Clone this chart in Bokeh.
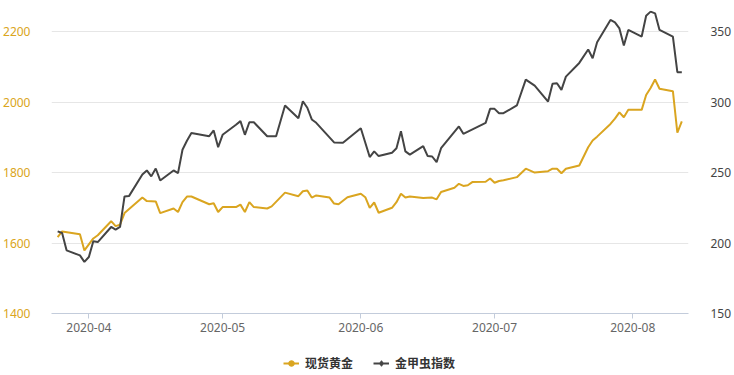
from datetime import datetime, timedelta
import pandas as pd
from bokeh.plotting import figure
from bokeh.layouts import column
from bokeh.models import (Range1d, LinearAxis, DatetimeTickFormatter, MonthsTicker,
                          FixedTicker, Legend, LegendItem, ColumnDataSource)
from bokeh.embed import file_html
from bokeh.resources import INLINE

gold_dates = ["2020-03-25", "2020-03-26", "2020-03-30", "2020-03-31", "2020-04-02", "2020-04-03",
              "2020-04-06", "2020-04-07", "2020-04-08", "2020-04-09", "2020-04-13", "2020-04-14",
              "2020-04-16", "2020-04-17", "2020-04-20", "2020-04-21", "2020-04-22", "2020-04-23",
              "2020-04-24", "2020-04-28", "2020-04-29", "2020-04-30", "2020-05-01", "2020-05-04",
              "2020-05-05", "2020-05-06", "2020-05-07", "2020-05-08", "2020-05-11", "2020-05-12",
              "2020-05-15", "2020-05-18", "2020-05-19", "2020-05-20", "2020-05-21", "2020-05-22",
              "2020-05-25", "2020-05-26", "2020-05-27", "2020-05-29", "2020-06-01", "2020-06-02",
              "2020-06-03", "2020-06-04", "2020-06-05", "2020-06-08", "2020-06-09", "2020-06-10",
              "2020-06-11", "2020-06-12", "2020-06-15", "2020-06-17", "2020-06-18", "2020-06-19",
              "2020-06-22", "2020-06-23", "2020-06-24", "2020-06-25", "2020-06-26", "2020-06-29",
              "2020-06-30", "2020-07-01", "2020-07-02", "2020-07-03", "2020-07-06", "2020-07-08",
              "2020-07-10", "2020-07-13", "2020-07-14", "2020-07-15", "2020-07-16", "2020-07-17",
              "2020-07-20", "2020-07-22", "2020-07-23", "2020-07-24", "2020-07-27", "2020-07-28",
              "2020-07-29", "2020-07-30", "2020-07-31", "2020-08-03", "2020-08-04", "2020-08-05",
              "2020-08-06", "2020-08-07", "2020-08-10", "2020-08-11", "2020-08-12"]
gold_values = [1617, 1633, 1625, 1579, 1613, 1622,
               1662, 1648, 1652, 1685, 1729, 1719,
               1718, 1685, 1698, 1688, 1716, 1732,
               1732, 1710, 1713, 1688, 1702, 1702,
               1709, 1688, 1716, 1702, 1698, 1704,
               1743, 1733, 1747, 1749, 1729, 1735,
               1729, 1712, 1710, 1730, 1740, 1730,
               1700, 1715, 1686, 1700, 1716, 1740,
               1729, 1732, 1728, 1729, 1724, 1745,
               1757, 1768, 1762, 1764, 1773, 1774,
               1783, 1771, 1776, 1778, 1787, 1811,
               1800, 1804, 1811, 1811, 1798, 1811,
               1820, 1872, 1891, 1902, 1938, 1953,
               1971, 1957, 1978, 1978, 2020, 2040,
               2064, 2038, 2031, 1913, 1945]

bug_dates = ["2020-03-25", "2020-03-26", "2020-03-27", "2020-03-30", "2020-03-31", "2020-04-01",
             "2020-04-02", "2020-04-03", "2020-04-06", "2020-04-07", "2020-04-08", "2020-04-09",
             "2020-04-10", "2020-04-13", "2020-04-14", "2020-04-15", "2020-04-16", "2020-04-17",
             "2020-04-20", "2020-04-21", "2020-04-22", "2020-04-23", "2020-04-24", "2020-04-28",
             "2020-04-29", "2020-04-30", "2020-05-01", "2020-05-04", "2020-05-05", "2020-05-06",
             "2020-05-07", "2020-05-08", "2020-05-11", "2020-05-13", "2020-05-15", "2020-05-18",
             "2020-05-19", "2020-05-20", "2020-05-21", "2020-05-22", "2020-05-26", "2020-05-28",
             "2020-06-01", "2020-06-03", "2020-06-04", "2020-06-05", "2020-06-08", "2020-06-09",
             "2020-06-10", "2020-06-11", "2020-06-12", "2020-06-15", "2020-06-16", "2020-06-17",
             "2020-06-18", "2020-06-19", "2020-06-23", "2020-06-24", "2020-06-29", "2020-06-30",
             "2020-07-01", "2020-07-02", "2020-07-03", "2020-07-06", "2020-07-08", "2020-07-10",
             "2020-07-13", "2020-07-14", "2020-07-15", "2020-07-16", "2020-07-17", "2020-07-20",
             "2020-07-22", "2020-07-23", "2020-07-24", "2020-07-27", "2020-07-28", "2020-07-29",
             "2020-07-30", "2020-07-31", "2020-08-03", "2020-08-04", "2020-08-05", "2020-08-06",
             "2020-08-07", "2020-08-10", "2020-08-11", "2020-08-12"]
bug_values = [208.3, 207.1, 194.8, 191.2, 186.6, 190.1,
              201.2, 200.7, 211.4, 209.5, 211.4, 233.1,
              233.3, 248.6, 251.5, 247.3, 252.9, 244.4,
              251.5, 249.6, 266.2, 272.6, 278.0, 275.8,
              279.9, 268.0, 276.8, 283.9, 286.5, 276.8,
              285.7, 285.7, 275.8, 275.8, 297.6, 288.6,
              300.6, 296.0, 287.7, 285.3, 271.4, 271.2,
              281.5, 261.0, 265.0, 261.7, 264.1, 267.3,
              279.4, 265.0, 262.7, 268.7, 261.7, 261.4,
              257.4, 267.3, 282.7, 277.5, 285.3, 295.2,
              295.2, 292.1, 292.1, 297.6, 316.0, 311.7,
              300.4, 313.0, 313.4, 308.7, 318.1, 327.8,
              337.3, 331.1, 342.4, 358.3, 356.6, 352.3,
              340.1, 351.2, 346.5, 361.3, 364.2, 363.0,
              351.2, 346.5, 321.2, 321.2]

left_ticks = [1400, 1600, 1800, 2000, 2200]
right_ticks = [150, 200, 250, 300, 350]
series_names = ["现货黄金", "金甲虫指数"]

GOLD = "#DAA520"
DARK = "#444444"

gold_src = ColumnDataSource(dict(x=pd.to_datetime(gold_dates), y=gold_values))
bug_src = ColumnDataSource(dict(x=pd.to_datetime(bug_dates), y=bug_values))

base = datetime(2020, 4, 1)
x_start = base - timedelta(days=8.38)
x_end = base + timedelta(days=134.5)

p = figure(width=734, height=345, x_axis_type="datetime",
           x_range=Range1d(x_start, x_end), y_range=Range1d(1400, 2260),
           output_backend="svg", toolbar_location=None,
           min_border_left=50, min_border_right=41, min_border_top=10, min_border_bottom=32)
p.extra_y_ranges = {"right": Range1d(150, 365)}
p.outline_line_color = None
p.background_fill_color = "white"
p.border_fill_color = "white"

# x axis
xa = p.xaxis[0]
xa.ticker = MonthsTicker(months=list(range(12)))
xa.formatter = DatetimeTickFormatter(months="%Y-%m", days="%Y-%m")
xa.axis_line_color = "#C3CCDB"
xa.major_tick_line_color = "#C3CCDB"
xa.major_tick_out = 5
xa.major_tick_in = 0
xa.minor_tick_line_color = None
xa.major_label_text_color = "#666666"
xa.major_label_text_font = "Noto Sans"
xa.major_label_text_font_size = "12px"
xa.major_label_standoff = 4

# left axis
ya = p.yaxis[0]
ya.ticker = FixedTicker(ticks=left_ticks)
ya.axis_line_color = None
ya.major_tick_line_color = None
ya.minor_tick_line_color = None
ya.major_label_text_color = GOLD
ya.major_label_text_font = "Noto Sans"
ya.major_label_text_font_size = "12px"
ya.major_label_standoff = 15

# right axis
ra = LinearAxis(y_range_name="right", ticker=FixedTicker(ticks=right_ticks))
ra.axis_line_color = None
ra.major_tick_line_color = None
ra.minor_tick_line_color = None
ra.major_label_text_color = "#444444"
ra.major_label_text_font = "Noto Sans"
ra.major_label_text_font_size = "12px"
ra.major_label_standoff = 16
p.add_layout(ra, "right")

p.xgrid.grid_line_color = None
p.ygrid.ticker = FixedTicker(ticks=left_ticks)
p.ygrid.grid_line_color = "#E6E6E6"
p.ygrid.grid_line_width = 1

p.line(x="x", y="y", source=gold_src, line_color=GOLD, line_width=2)
p.line(x="x", y="y", source=bug_src, line_color=DARK, line_width=2, y_range_name="right")

# legend strip below the chart (legend glyph renderers sit outside its visible range)
lg = figure(width=734, height=30, x_range=Range1d(0, 1), y_range=Range1d(0, 1),
            output_backend="svg", toolbar_location=None,
            min_border_left=0, min_border_right=0, min_border_top=0, min_border_bottom=0)
lg.axis.visible = False
lg.grid.visible = False
lg.outline_line_color = None
lg.background_fill_color = "white"
lg.border_fill_color = "white"

off = ColumnDataSource(dict(x=[-10, -11], y=[-10, -11]))
gl = lg.line(x="x", y="y", source=off, line_color=GOLD, line_width=2)
gm = lg.scatter(x="x", y="y", source=off, marker="circle", size=8, fill_color=GOLD, line_color=GOLD)
bl = lg.line(x="x", y="y", source=off, line_color=DARK, line_width=2)
bm = lg.scatter(x="x", y="y", source=off, marker="diamond", size=10, fill_color=DARK, line_color=DARK)

legend = Legend(items=[LegendItem(label=series_names[0], renderers=[gl, gm]),
                       LegendItem(label=series_names[1], renderers=[bl, bm])],
                location=(232, 4), orientation="horizontal")
legend.background_fill_alpha = 0
legend.border_line_color = None
legend.padding = 0
legend.margin = 0
legend.spacing = 20
legend.glyph_width = 16
legend.glyph_height = 14
legend.label_standoff = 6
legend.label_text_font = "Noto Sans CJK SC"
legend.label_text_font_size = "12px"
legend.label_text_font_style = "bold"
legend.label_text_color = "#333333"
lg.add_layout(legend)

layout = column(p, lg, spacing=0)
open("out.html", "w").write(file_html(layout, INLINE))
